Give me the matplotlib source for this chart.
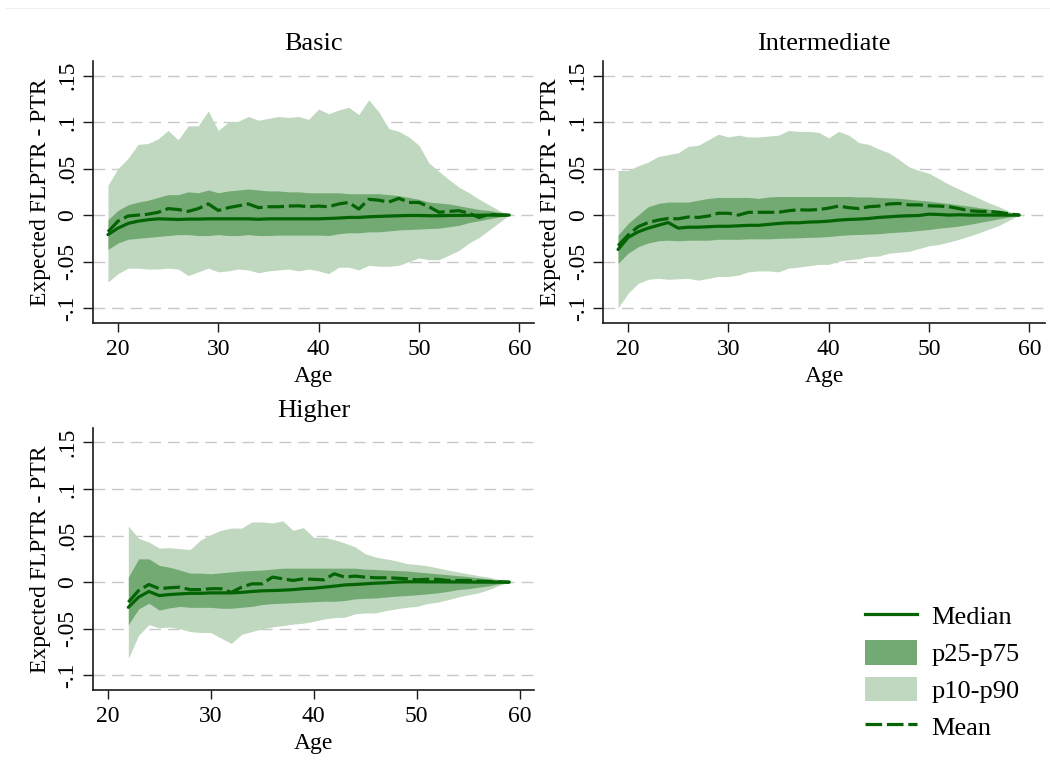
import matplotlib
matplotlib.use('Agg')
import matplotlib.pyplot as plt
from matplotlib.lines import Line2D
from matplotlib.patches import Patch

plt.rcParams['font.family'] = ['Liberation Serif', 'DejaVu Serif']

# ---------------- data ----------------
ages_bi = [19, 20, 21, 22, 23, 24, 25, 26, 27, 28, 29, 30, 31, 32, 33, 34, 35, 36, 37, 38,
           39, 40, 41, 42, 43, 44, 45, 46, 47, 48, 49, 50, 51, 52, 53, 54, 55, 56, 57, 58, 59]
ages_hi = [22, 23, 24, 25, 26, 27, 28, 29, 30, 31, 32, 33, 34, 35, 36, 37, 38, 39, 40,
           41, 42, 43, 44, 45, 46, 47, 48, 49, 50, 51, 52, 53, 54, 55, 56, 57, 58, 59]

basic_p90 = [0.032, 0.050, 0.061, 0.076, 0.077, 0.082, 0.091, 0.081, 0.096, 0.096,
             0.112, 0.091, 0.100, 0.101, 0.106, 0.102, 0.104, 0.106, 0.105, 0.106,
             0.103, 0.114, 0.109, 0.113, 0.116, 0.108, 0.124, 0.111, 0.093, 0.090,
             0.084, 0.075, 0.056, 0.047, 0.038, 0.030, 0.024, 0.017, 0.011, 0.005, 0.0]
basic_p10 = [-0.072, -0.063, -0.057, -0.057, -0.058, -0.058, -0.057, -0.058, -0.065, -0.061,
             -0.057, -0.061, -0.060, -0.058, -0.059, -0.062, -0.060, -0.059, -0.058, -0.060,
             -0.058, -0.060, -0.063, -0.056, -0.056, -0.059, -0.054, -0.055, -0.055, -0.054,
             -0.050, -0.046, -0.048, -0.048, -0.043, -0.038, -0.030, -0.024, -0.016, -0.008, 0.0]
basic_p75 = [-0.005, 0.005, 0.011, 0.014, 0.016, 0.019, 0.022, 0.022, 0.025, 0.024,
             0.027, 0.024, 0.026, 0.027, 0.028, 0.027, 0.026, 0.026, 0.025, 0.025,
             0.024, 0.024, 0.024, 0.024, 0.023, 0.023, 0.023, 0.023, 0.022, 0.021,
             0.019, 0.017, 0.014, 0.013, 0.012, 0.010, 0.008, 0.006, 0.005, 0.003, 0.0]
basic_p25 = [-0.037, -0.030, -0.026, -0.025, -0.024, -0.023, -0.022, -0.021, -0.021, -0.022,
             -0.022, -0.021, -0.022, -0.022, -0.021, -0.022, -0.022, -0.0215, -0.0215, -0.0215,
             -0.0215, -0.0215, -0.022, -0.020, -0.019, -0.019, -0.018, -0.018, -0.017, -0.016,
             -0.0155, -0.015, -0.0145, -0.014, -0.0125, -0.011, -0.008, -0.006, -0.004, -0.002, 0.0]
basic_med = [-0.021, -0.014, -0.009, -0.0065, -0.005, -0.004, -0.0043, -0.0047, -0.0043, -0.0043,
             -0.004, -0.004, -0.004, -0.004, -0.004, -0.0045, -0.004, -0.004, -0.004, -0.004,
             -0.004, -0.004, -0.0036, -0.0032, -0.0025, -0.0025, -0.0018, -0.0014, -0.001, -0.0007,
             -0.0004, -0.0004, -0.0007, -0.0007, -0.0004, -0.0003, -0.0002, -0.0002, 0.0, 0.0, 0.0]
basic_mean = [-0.018, -0.0065, -0.001, 0.0, 0.001, 0.003, 0.007, 0.006, 0.004, 0.007,
              0.012, 0.005, 0.008, 0.010, 0.012, 0.008, 0.009, 0.009, 0.0097, 0.010,
              0.009, 0.0097, 0.009, 0.012, 0.0136, 0.0065, 0.017, 0.016, 0.014, 0.018,
              0.0136, 0.0136, 0.009, 0.003, 0.004, 0.0047, 0.002, -0.0025, 0.0007, 0.0, 0.0]

inter_p90 = [0.048, 0.048, 0.053, 0.057, 0.063, 0.065, 0.067, 0.074, 0.075, 0.081,
             0.087, 0.084, 0.086, 0.084, 0.084, 0.085, 0.086, 0.091, 0.090, 0.090,
             0.089, 0.083, 0.090, 0.086, 0.078, 0.076, 0.071, 0.067, 0.060, 0.052,
             0.048, 0.045, 0.039, 0.033, 0.028, 0.023, 0.018, 0.013, 0.009, 0.004, 0.0]
inter_p10 = [-0.100, -0.084, -0.0735, -0.069, -0.068, -0.069, -0.0685, -0.068, -0.070, -0.068,
             -0.066, -0.066, -0.0645, -0.061, -0.060, -0.060, -0.061, -0.057, -0.056, -0.0545,
             -0.053, -0.053, -0.0495, -0.048, -0.047, -0.0445, -0.044, -0.041, -0.040, -0.039,
             -0.036, -0.033, -0.0315, -0.029, -0.026, -0.0226, -0.019, -0.015, -0.011, -0.0054, 0.0]
inter_p75 = [-0.0215, -0.009, 0.0, 0.009, 0.0125, 0.014, 0.014, 0.014, 0.016, 0.018,
             0.019, 0.019, 0.019, 0.019, 0.018, 0.0195, 0.020, 0.020, 0.020, 0.020,
             0.020, 0.020, 0.020, 0.020, 0.0195, 0.0195, 0.019, 0.0185, 0.018, 0.017,
             0.016, 0.015, 0.0136, 0.0125, 0.011, 0.0097, 0.008, 0.0065, 0.0047, 0.0025, 0.0]
inter_p25 = [-0.052, -0.041, -0.034, -0.030, -0.0276, -0.027, -0.0276, -0.027, -0.027, -0.027,
             -0.026, -0.026, -0.026, -0.0255, -0.0255, -0.0255, -0.025, -0.0247, -0.0244, -0.024,
             -0.0237, -0.023, -0.022, -0.0212, -0.0208, -0.0205, -0.020, -0.019, -0.0183, -0.0176,
             -0.0165, -0.0155, -0.014, -0.013, -0.0118, -0.010, -0.008, -0.006, -0.004, -0.002, 0.0]
inter_med = [-0.037, -0.024, -0.018, -0.014, -0.011, -0.008, -0.014, -0.013, -0.013, -0.0125,
             -0.012, -0.012, -0.0115, -0.011, -0.011, -0.010, -0.009, -0.0083, -0.0083, -0.0075,
             -0.0072, -0.0065, -0.0054, -0.0047, -0.0043, -0.0036, -0.0025, -0.0018, -0.0011, -0.0007,
             -0.0004, 0.001, 0.0007, 0.0, 0.0004, 0.0, 0.0, 0.0, 0.0, 0.0, 0.0]
inter_mean = [-0.033, -0.0215, -0.0125, -0.008, -0.0054, -0.0036, -0.004, -0.002, -0.0025, -0.001,
              0.002, 0.002, 0.0, 0.003, 0.003, 0.003, 0.003, 0.0047, 0.0057, 0.0054,
              0.006, 0.0075, 0.0097, 0.008, 0.007, 0.009, 0.0097, 0.012, 0.0125, 0.011,
              0.011, 0.010, 0.0097, 0.009, 0.007, 0.0047, 0.004, 0.0039, 0.003, 0.0014, 0.0]

high_p90 = [0.060, 0.047, 0.043, 0.0366, 0.037, 0.036, 0.035, 0.045, 0.051, 0.0556,
            0.058, 0.058, 0.0646, 0.0646, 0.0635, 0.0657, 0.0556, 0.0585, 0.048, 0.048,
            0.0456, 0.042, 0.038, 0.0305, 0.027, 0.025, 0.023, 0.020, 0.019, 0.0176,
            0.0154, 0.013, 0.011, 0.009, 0.007, 0.0054, 0.003, 0.0]
high_p10 = [-0.082, -0.057, -0.0456, -0.049, -0.048, -0.050, -0.053, -0.054, -0.054, -0.060,
            -0.0657, -0.056, -0.053, -0.050, -0.048, -0.0466, -0.045, -0.044, -0.042, -0.0395,
            -0.038, -0.0377, -0.034, -0.033, -0.033, -0.0305, -0.0287, -0.027, -0.026, -0.023,
            -0.0215, -0.019, -0.016, -0.0136, -0.0115, -0.008, -0.0036, 0.0]
high_p75 = [0.0054, 0.025, 0.025, 0.018, 0.016, 0.013, 0.0097, 0.0097, 0.009, 0.010,
            0.011, 0.012, 0.0125, 0.013, 0.014, 0.015, 0.015, 0.015, 0.015, 0.015,
            0.015, 0.015, 0.015, 0.014, 0.0136, 0.013, 0.0125, 0.012, 0.011, 0.010,
            0.009, 0.008, 0.007, 0.006, 0.0047, 0.0036, 0.0018, 0.0]
high_p25 = [-0.0456, -0.0287, -0.0226, -0.030, -0.0276, -0.026, -0.027, -0.027, -0.027, -0.028,
            -0.028, -0.027, -0.026, -0.024, -0.023, -0.0226, -0.022, -0.0215, -0.021, -0.0205,
            -0.0205, -0.0197, -0.018, -0.0173, -0.017, -0.016, -0.015, -0.0144, -0.0136, -0.0126,
            -0.0115, -0.010, -0.008, -0.007, -0.0054, -0.004, -0.0018, 0.0]
high_med = [-0.027, -0.016, -0.010, -0.0144, -0.0133, -0.0126, -0.012, -0.012, -0.0115, -0.0115,
            -0.0115, -0.011, -0.010, -0.0093, -0.009, -0.0086, -0.008, -0.007, -0.0065, -0.0054,
            -0.0043, -0.003, -0.0025, -0.0018, -0.0011, -0.0007, 0.0, 0.0004, 0.0004, 0.0003,
            0.0003, 0.0002, 0.0002, 0.0001, 0.0, 0.0, 0.0, 0.0]
high_mean = [-0.0215, -0.009, -0.0025, -0.007, -0.006, -0.0054, -0.008, -0.008, -0.007, -0.007,
             -0.011, -0.0054, -0.0018, -0.0018, 0.0054, 0.0036, 0.0018, 0.0036, 0.003, 0.0025,
             0.009, 0.0054, 0.0065, 0.0054, 0.0047, 0.0047, 0.0043, 0.0036, 0.0025, 0.003,
             0.003, 0.0018, 0.0018, 0.0018, 0.0011, 0.0007, 0.0004, 0.0]

panel_titles = ['Basic', 'Intermediate', 'Higher']
ytick_vals = [-0.1, -0.05, 0, 0.05, 0.1, 0.15]
ytick_labels = ['-.1', '-.05', '0', '.05', '.1', '.15']
xtick_vals = [20, 30, 40, 50, 60]
legend_labels = ['Median', 'p25-p75', 'p10-p90', 'Mean']

# ---------------- style ----------------
LIGHT = '#BFD8BF'
DARK = '#73AA73'
LINE = '#046404'
GRID = '#C8C8C8'
AXC = '#1A1A1A'
LW = 2.3
MEAN_DASH = (0, (5.2, 1.5))

W, H = 1050, 771
fig = plt.figure(figsize=(W / 100, H / 100), dpi=100)
fig.patch.set_facecolor('white')

# faint top border line
fig.add_artist(Line2D([6 / W, 1.0], [1 - 8 / H, 1 - 8 / H], transform=fig.transFigure,
                      color='#EFEFEF', lw=0.8))


def add_ax(l, t, r, b):
    return fig.add_axes([l / W, 1 - b / H, (r - l) / W, (b - t) / H])


panels = [
    dict(rect=(92.7, 61, 534, 322.7), xlim=(17.48, 61.47), ages=ages_bi,
         p10=basic_p10, p90=basic_p90, p25=basic_p25, p75=basic_p75, med=basic_med, mean=basic_mean),
    dict(rect=(603.3, 61, 1045, 322.7), xlim=(17.53, 61.57), ages=ages_bi,
         p10=inter_p10, p90=inter_p90, p25=inter_p25, p75=inter_p75, med=inter_med, mean=inter_mean),
    dict(rect=(92.7, 427.7, 534, 690), xlim=(18.54, 61.40), ages=ages_hi,
         p10=high_p10, p90=high_p90, p25=high_p25, p75=high_p75, med=high_med, mean=high_mean),
]

FS_TICK = 17
FS_TITLE = 19
FS_LAB = 17

for title, p in zip(panel_titles, panels):
    ax = add_ax(*p['rect'])
    ax.set_xlim(*p['xlim'])
    ax.set_ylim(-0.1157, 0.1657)
    ax.set_axisbelow(True)
    for yv in ytick_vals:
        ax.axhline(yv, color=GRID, lw=1.0, ls=(0, (8.4, 5.0)), zorder=0.5)
    ax.fill_between(p['ages'], p['p10'], p['p90'], color=LIGHT, lw=0, zorder=1)
    ax.fill_between(p['ages'], p['p25'], p['p75'], color=DARK, lw=0, zorder=1.1)
    ax.plot(p['ages'], p['med'], color=LINE, lw=LW, zorder=3, solid_joinstyle='round',
            solid_capstyle='round')
    ax.plot(p['ages'], p['mean'], color=LINE, lw=LW, ls=MEAN_DASH, zorder=3.1,
            dash_joinstyle='round')

    for s in ['top', 'right']:
        ax.spines[s].set_visible(False)
    for s in ['left', 'bottom']:
        ax.spines[s].set_linewidth(1.2)
        ax.spines[s].set_color(AXC)

    ax.set_yticks(ytick_vals)
    ax.set_yticklabels(ytick_labels, rotation=90, va='center')
    ax.set_xticks(xtick_vals)
    ax.set_xticklabels([str(v) for v in xtick_vals])
    ax.tick_params(axis='y', direction='out', length=7.2, width=1.0, color=AXC,
                   labelsize=FS_TICK, pad=3.1)
    ax.tick_params(axis='x', direction='out', length=6.5, width=1.0, color=AXC,
                   labelsize=FS_TICK, pad=5)

    ax.set_title(title, fontsize=FS_TITLE, pad=8)
    ax.set_xlabel('Age', fontsize=FS_LAB, va='center')
    ax.xaxis.set_label_coords(0.5, -54.0 / (p['rect'][3] - p['rect'][1]))
    ax.set_ylabel('Expected FLPTR - PTR', fontsize=FS_LAB, va='center')
    ax.yaxis.set_label_coords(-52.5 / (p['rect'][2] - p['rect'][0]), 0.5)

handles = [
    Line2D([], [], color=LINE, lw=LW),
    Patch(facecolor=DARK, edgecolor='none'),
    Patch(facecolor=LIGHT, edgecolor='none'),
    Line2D([], [], color=LINE, lw=LW, ls=MEAN_DASH),
]
fig.legend(handles, legend_labels, loc='upper left',
           bbox_to_anchor=(865 / W, 1 - 603 / H), frameon=False,
           fontsize=19, handlelength=1.97, handleheight=1.06,
           handletextpad=0.55, labelspacing=0.40, borderpad=0, borderaxespad=0)

fig.savefig('out.png', dpi=100, facecolor='white')
